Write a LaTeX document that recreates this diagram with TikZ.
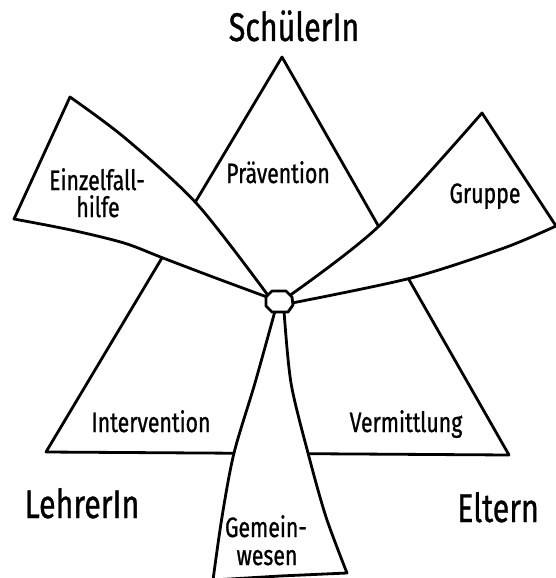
\documentclass[tikz,border=0pt]{standalone}
\usepackage{fontspec}
\newfontfamily\hand[FakeStretch=0.76,FakeBold=0.8]{Fira Sans}
\tikzset{
  edge/.style={line width=2.8pt, line join=round, line cap=round},
  blade/.style={edge, fill=white},
  smalltxt/.style={font=\hand\fontsize{28}{30}\selectfont, inner sep=0pt, anchor=base},
  bigtxt/.style={font=\hand\fontsize{40}{42}\selectfont, inner sep=0pt, anchor=base},
}
\begin{document}
\begin{tikzpicture}[x=1pt,y=-1pt]
\useasboundingbox (0,0) rectangle (556,578);
\fill[white] (0,0) rectangle (556,578);
\clip (0,0) rectangle (556,578);
% big triangle
\draw[blade] (282,57) -- (509,455) -- (46,452) -- cycle;
% Einzelfallhilfe blade
\draw[blade] plot[smooth, tension=0.5] coordinates {(70,97) (125,138) (197,204) (267,294)}
  -- plot[smooth, tension=0.5] coordinates {(267,297) (213,277) (163,258) (124,243) (71,230) (14,219)} -- cycle;
% Gruppe blade
\draw[blade] (556,226) -- plot[smooth, tension=0.5] coordinates {(482,113) (378,227) (289,296)}
  -- plot[smooth, tension=0.5] coordinates {(292,303) (411,278) (504,248) (556,226)} -- cycle;
% Gemeinwesen blade
\draw[blade] plot[smooth, tension=0.5] coordinates {(275,311) (255,383) (234,453) (222,517) (213,580)}
  -- (280,576) -- plot[smooth, tension=0.5] coordinates {(347,573) (326,517) (308,453) (291,383) (284,311)} -- cycle;
% hub
\draw[blade] (272,291) -- (286,291) -- (292,297) -- (293,305) -- (288,312) -- (272,312) -- (266,306) -- (266,297) -- cycle;
\coordinate (hub) at (279.5,302);
% labels
\node[bigtxt] (schueler) at (294,41) {SchülerIn};
\node[bigtxt] (lehrer) at (82,518) {LehrerIn};
\node[bigtxt] (eltern) at (498,522) {Eltern};
\node[smalltxt] (praev) at (278,183) {Prävention};
\node[smalltxt] (einz1) at (97,190) {Einzelfall-};
\node[smalltxt] (einz2) at (98,217) {hilfe};
\node[smalltxt] (gruppe) at (485,203) {Gruppe};
\node[smalltxt] (interv) at (151,432) {Intervention};
\node[smalltxt] (vermit) at (406,432) {Vermittlung};
\node[smalltxt] (gem1) at (266,537) {Gemein-};
\node[smalltxt] (gem2) at (267,565) {wesen};
\end{tikzpicture}
\end{document}
